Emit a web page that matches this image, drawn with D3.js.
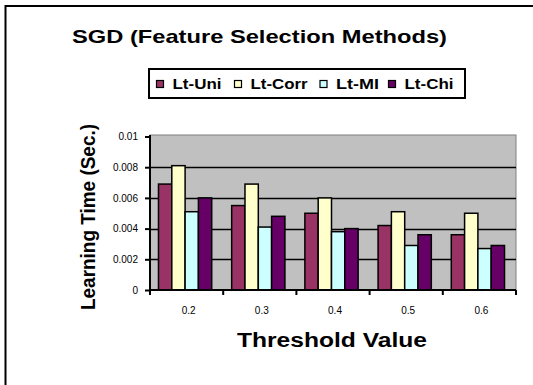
<!DOCTYPE html>
<html><head><meta charset="utf-8">
<script src="https://cdn.jsdelivr.net/npm/d3@7/dist/d3.min.js"></script>
<style>html,body{margin:0;background:#fff;overflow:hidden}svg{display:block}text{font-family:"Liberation Sans",Arial,sans-serif}</style>
</head><body>
<svg id="c" width="533" height="385"></svg>
<script>
const categories = ["0.2","0.3","0.4","0.5","0.6"];
const seriesNames = ["Lt-Uni","Lt-Corr","Lt-MI","Lt-Chi"];
const ltUni  = [0.0069,0.0055,0.0050,0.0042,0.0036];
const ltCorr = [0.0081,0.0069,0.0060,0.0051,0.0050];
const ltMI   = [0.0051,0.0041,0.0038,0.0029,0.0027];
const ltChi  = [0.0060,0.0048,0.0040,0.0036,0.0029];
const yTicks = [0,0.002,0.004,0.006,0.008,0.01];
const colors = ["#993366","#FFFFCC","#CCFFFF","#660066"];
const seriesValues = [ltUni, ltCorr, ltMI, ltChi];

const svg = d3.select("#c");
// outer frame (only left and top edges visible)
svg.append("path").attr("d","M5.5,400V6H560")
  .attr("fill","none").attr("stroke","#000").attr("stroke-width",2);

const L=150, R=516, T=135, B=290;
const x = d3.scaleBand().domain(categories).range([L,R]).paddingInner(0).paddingOuter(0);
const y = d3.scaleLinear().domain([0,0.01]).range([B,T+1.5]);

svg.append("rect").attr("x",L).attr("y",T).attr("width",R-L).attr("height",B-T)
  .attr("fill","#C0C0C0").attr("stroke","#808080").attr("stroke-width",1);

// gridlines
svg.append("g").selectAll("line").data(yTicks.filter(d=>d>0 && d<0.01)).join("line")
  .attr("x1",L).attr("x2",R).attr("y1",d=>Math.round(y(d))+0.5).attr("y2",d=>Math.round(y(d))+0.5)
  .attr("stroke","#000").attr("stroke-width",1.5);

// bars
const inner = d3.scaleBand().domain(seriesNames).range([0,x.bandwidth()]).paddingInner(0).paddingOuter(0.75);
const data = [];
categories.forEach((c,i)=>seriesNames.forEach((s,j)=>data.push({c,s,v:seriesValues[j][i],j})));
svg.append("g").selectAll("rect").data(data).join("rect")
  .attr("x",d=>x(d.c)+inner(d.s)-1.5).attr("width",inner.bandwidth())
  .attr("y",d=>y(d.v)).attr("height",d=>B-y(d.v))
  .attr("fill",d=>colors[d.j]).attr("stroke","#000").attr("stroke-width",1.5);

// axes
const yAxis = svg.append("g").attr("transform",`translate(${L},0)`)
  .call(d3.axisLeft(y).tickValues(yTicks).tickFormat(d=>d===0?"0":d3.format("")(+d.toFixed(3))).tickSize(5).tickPadding(7));
const xAxis = svg.append("g").attr("transform",`translate(0,${B})`)
  .call(d3.axisBottom(x).tickSize(0).tickPadding(17));
xAxis.selectAll(".tick text").attr("dx",2);
// x tick marks at band boundaries
const bounds = categories.map(c=>x(c)).concat([R]);
svg.append("g").selectAll("line").data(bounds).join("line")
  .attr("x1",d=>d).attr("x2",d=>d).attr("y1",B).attr("y2",B+5).attr("stroke","#000").attr("stroke-width",2);
[yAxis,xAxis].forEach(g=>{
  g.select(".domain").attr("stroke","#000").attr("stroke-width",2);
  g.selectAll(".tick line").attr("stroke","#000").attr("stroke-width",2);
  g.selectAll(".tick text").attr("font-size",10).attr("fill","#000").attr("font-family","Liberation Sans, Arial, sans-serif");
});
yAxis.select(".domain").attr("d",`M0,${T}V${B}`);
xAxis.select(".domain").attr("d",`M${L},0H${R}`);

// titles
svg.append("text").attr("x",72).attr("y",43)
  .attr("font-size",19).attr("font-weight","bold")
  .attr("textLength",375).attr("lengthAdjust","spacingAndGlyphs").text("SGD (Feature Selection Methods)");
svg.append("text").attr("x",237).attr("y",347)
  .attr("font-size",20).attr("font-weight","bold")
  .attr("textLength",190).attr("lengthAdjust","spacingAndGlyphs").text("Threshold Value");
svg.append("text").attr("transform","translate(95,310) rotate(-90)")
  .attr("font-size",20).attr("font-weight","bold")
  .attr("textLength",186).attr("lengthAdjust","spacingAndGlyphs").text("Learning Time (Sec.)");

// legend
const lg = svg.append("g");
lg.append("rect").attr("x",149).attr("y",69).attr("width",316).attr("height",29)
  .attr("fill","#fff").attr("stroke","#000").attr("stroke-width",2);
const lx = [156.5,234.5,320,388.5];
const tw = [49,57,43,49];
seriesNames.forEach((s,i)=>{
  lg.append("rect").attr("x",lx[i]).attr("y",80.5).attr("width",7).attr("height",7)
    .attr("fill",colors[i]).attr("stroke","#000").attr("stroke-width",1.2);
  lg.append("text").attr("x",lx[i]+16).attr("y",88.5).attr("font-size",15).attr("font-weight","bold")
    .attr("textLength",tw[i]).attr("lengthAdjust","spacingAndGlyphs").text(s);
});
</script>
</body></html>
